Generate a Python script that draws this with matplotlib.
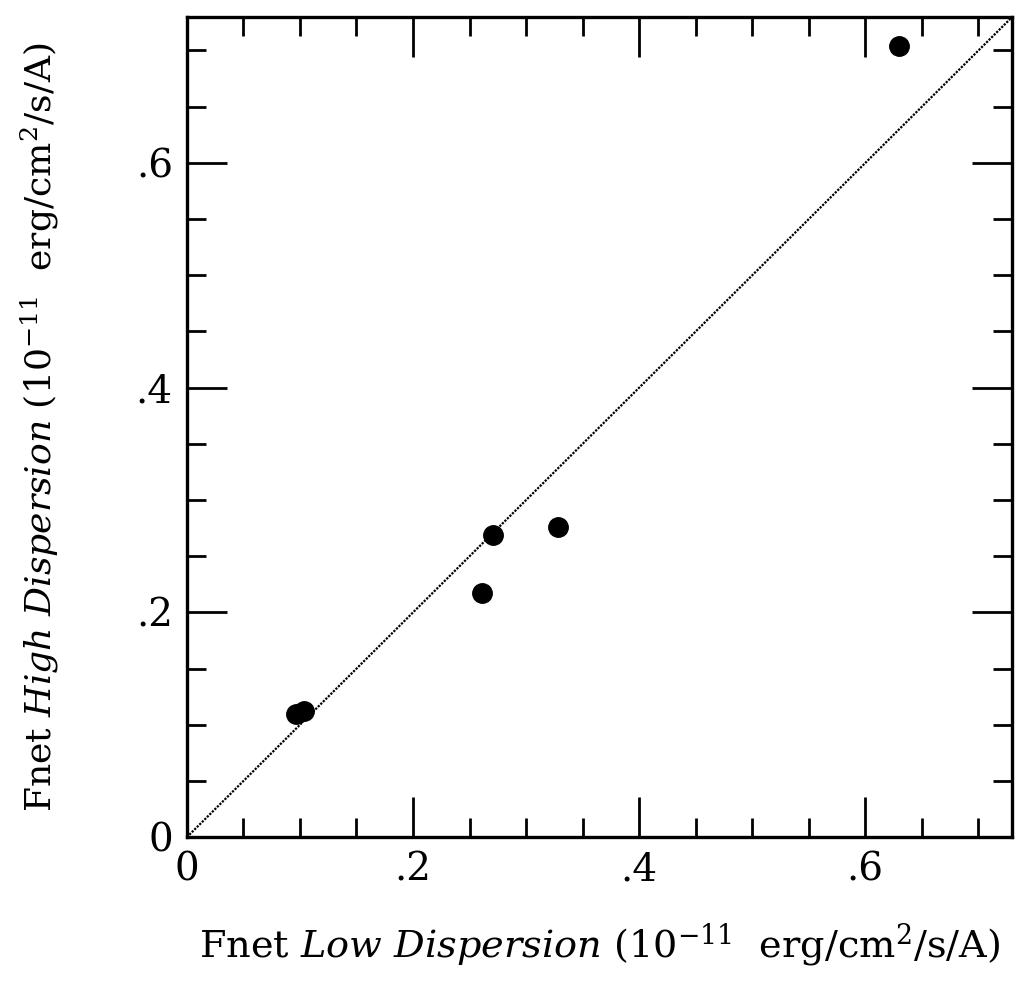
import matplotlib
matplotlib.use("Agg")
import matplotlib.pyplot as plt
from matplotlib.ticker import MultipleLocator, FixedFormatter, FixedLocator

plt.rcParams['font.family'] = ['DejaVu Serif']
plt.rcParams['mathtext.fontset'] = 'dejavuserif'

# Data
low_disp = [0.097, 0.104, 0.261, 0.271, 0.328, 0.630]
high_disp = [0.110, 0.112, 0.217, 0.269, 0.276, 0.704]
major_ticks = [0, 0.2, 0.4, 0.6]
tick_labels = ["0", ".2", ".4", ".6"]
lim = 0.73

fig = plt.figure(figsize=(10.32, 9.85), dpi=100)
ax = fig.add_axes([0.181, 0.150, 0.800, 0.833])

ax.plot([0, lim], [0, lim], color='black', lw=1.6, linestyle=(0, (1, 0.6)))
ax.plot(low_disp, high_disp, 'o', color='black', markersize=14)

ax.set_xlim(0, lim)
ax.set_ylim(0, lim)

for axis in (ax.xaxis, ax.yaxis):
    axis.set_major_locator(FixedLocator(major_ticks))
    axis.set_major_formatter(FixedFormatter(tick_labels))
    axis.set_minor_locator(MultipleLocator(0.05))

ax.tick_params(which='both', direction='in', top=True, right=True, width=2.0, labelsize=28)
ax.tick_params(which='major', length=29, pad=10)
ax.tick_params(which='minor', length=14)
for s in ax.spines.values():
    s.set_linewidth(2.4)

ax.set_xlabel(r"Fnet $\mathit{Low\ Dispersion}$ (10$^{-11}$  erg/cm$^{2}$/s/A)", fontsize=27.5, labelpad=24)
ax.set_ylabel(r"Fnet $\mathit{High\ Dispersion}$ (10$^{-11}$  erg/cm$^{2}$/s/A)", fontsize=26, labelpad=54)

fig.savefig("out.png", dpi=100)
